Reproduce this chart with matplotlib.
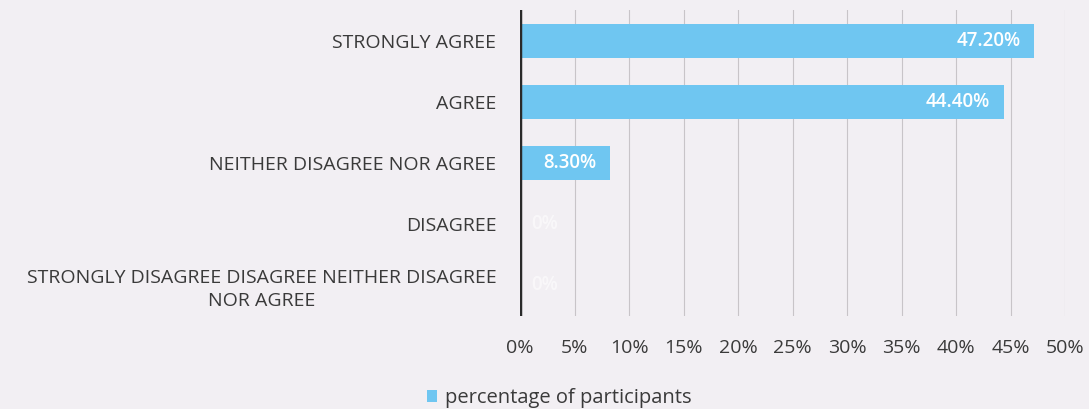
import numpy as np
import matplotlib.pyplot as plt

categories = ['STRONGLY AGREE', 'AGREE', 'NEITHER DISAGREE NOR AGREE', 'DISAGREE',
              'STRONGLY DISAGREE DISAGREE NEITHER DISAGREE\nNOR AGREE']
values = [47.2, 44.4, 8.3, 0, 0]
value_labels = ['47.20%', '44.40%', '8.30%', '0%', '0%']
ticks = [0, 5, 10, 15, 20, 25, 30, 35, 40, 45, 50]
series_name = 'percentage of participants'

bg = '#f2eff3'
bar_color = '#6fc6f1'

plt.rcParams['font.family'] = ['Open Sans', 'DejaVu Sans']

fig = plt.figure(figsize=(10.89, 4.09), dpi=100, facecolor=bg)
# plot area in pixels: x 520..1065, y 10.5..315.5
ax = fig.add_axes([520 / 1089, 1 - 315.5 / 409, 545 / 1089, 305 / 409])
ax.set_facecolor(bg)

y = np.arange(len(categories))
bars = ax.barh(y, values, height=0.56, color=bar_color, label=series_name, zorder=2)

for i, (v, lab) in enumerate(zip(values, value_labels)):
    if v > 0:
        ax.text(v - 1.3, y[i], lab, ha='right', va='center', color='white', fontsize=13.5,
                fontweight='semibold', zorder=3)
    else:
        ax.text(1.0, y[i], lab, ha='left', va='center', color='white', alpha=0.55, fontsize=13.5,
                fontweight='semibold', zorder=3)

ax.set_xlim(0, 50)
ax.set_ylim(len(categories) - 0.5, -0.5)
ax.set_xticks(ticks)
ax.set_xticklabels([f'{t}%' for t in ticks], fontsize=14, color='#3a3a3a')
ax.set_yticks(y)
ax.set_yticklabels(categories, fontsize=14, color='#3a3a3a', ha='right', multialignment='center',
                   linespacing=1.35)
ax.tick_params(axis='y', length=0, pad=17)
ax.tick_params(axis='x', length=0, pad=17)
ax.grid(axis='x', color='#c8c4c8', linewidth=0.8, zorder=0)
for s in ['top', 'right', 'bottom', 'left']:
    ax.spines[s].set_visible(False)
ax.axvline(0, color='#2a2a2a', linewidth=2.5, zorder=4)

fig.legend(handles=[bars], labels=[series_name], loc='center', bbox_to_anchor=(559 / 1089, 1 - 398 / 409),
           frameon=False, fontsize=14.5, handlelength=0.5, handleheight=0.5, handletextpad=0.4,
           labelcolor='#3a3a3a')

fig.savefig('out.png', dpi=100, facecolor=bg)
